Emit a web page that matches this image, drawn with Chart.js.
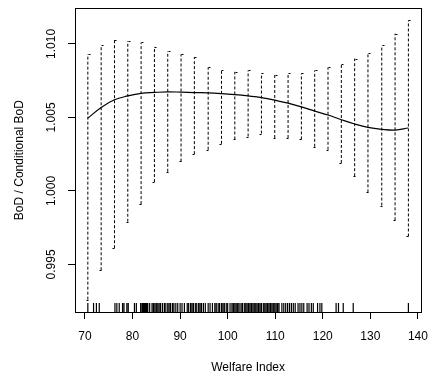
<!DOCTYPE html>
<html>
<head>
<meta charset="utf-8">
<script src="https://cdn.jsdelivr.net/npm/chart.js@4"></script>
<style>
  html, body { margin: 0; padding: 0; background: #fff; }
  #wrap { width: 438px; height: 380px; }
</style>
</head>
<body>
<div id="wrap"><canvas id="bodChart"></canvas></div>
<script>
// grid of welfare index values where the ratio was evaluated
const welfareGrid = [70.6, 73.4, 76.2, 79.0, 81.8, 84.6, 87.4, 90.2, 93.0, 95.9, 98.7, 101.5, 104.3,
    107.1, 109.9, 112.7, 115.5, 118.3, 121.1, 123.9, 126.7, 129.5, 132.4, 135.2, 138.0];
const bodFit = [1.00495, 1.00568, 1.0062, 1.00646, 1.00664, 1.0067, 1.00674, 1.00672, 1.00669, 1.00667, 1.00662, 1.00655, 1.00646,
    1.00635, 1.00617, 1.00597, 1.00572, 1.00543, 1.00516, 1.00484, 1.00455, 1.00432, 1.00419, 1.00414, 1.00428];
const bodUpper = [1.0093, 1.0099, 1.0103, 1.0102, 1.0101, 1.0098, 1.0095, 1.0093, 1.0091, 1.0084, 1.0082, 1.0081, 1.0082,
    1.0080, 1.0079, 1.0080, 1.0080, 1.0082, 1.0084, 1.0086, 1.0090, 1.0094, 1.0099, 1.0107, 1.0116];
const bodLower = [0.9926, 0.9946, 0.9961, 0.9979, 0.9991, 1.0006, 1.0013, 1.0020, 1.0025, 1.0028, 1.0032, 1.0035, 1.0037,
    1.0039, 1.0036, 1.0036, 1.0035, 1.0030, 1.0028, 1.0019, 1.0010, 0.9999, 0.9990, 0.9980, 0.9969];

// observed welfare index values (rug)
const rugValues = [70.6, 71.8, 72.4, 73.0, 76.3, 76.7, 77.2, 77.9, 78.2, 78.8, 79.1, 80.4, 80.8,
    81.7, 82.0, 82.2, 82.4, 82.6, 82.8, 83.0, 83.2, 83.6, 84.1, 84.4, 84.7, 85.0, 85.3, 85.6, 85.9, 86.3,
    86.7, 87.0, 87.4, 87.7, 88.0, 88.4, 88.7, 89.1, 89.5, 90.0, 90.4, 90.9, 91.5, 91.8, 92.2, 92.5, 92.8,
    93.2, 93.5, 93.9, 94.2, 94.5, 94.9, 95.3, 95.9, 96.3, 96.8, 97.3, 97.6, 98.0, 98.3, 98.7, 99.0, 99.3,
    99.7, 100.0, 100.5, 100.9, 101.2, 101.5, 101.8, 102.1, 102.4, 102.8, 103.1, 103.5, 103.8, 104.1, 104.4,
    104.7, 105.0, 105.3, 105.6, 105.9, 106.2, 106.5, 106.8, 107.1, 107.5, 107.8, 108.1, 108.4, 108.7, 109.0,
    109.3, 109.6, 109.9, 110.2, 110.5, 110.8, 111.4, 111.8, 112.2, 112.6, 113.0, 113.4, 113.8, 114.2, 114.8,
    115.2, 115.6, 116.0, 116.7, 117.1, 117.6, 118.0, 118.9, 119.4, 119.8, 122.8, 123.3, 124.3, 126.4, 138.0];

const xTicks = [70, 80, 90, 100, 110, 120, 130, 140];
const yTicks = [0.995, 1.000, 1.005, 1.010];

const X_MIN = 67.9, X_MAX = 140.7;
const Y_MIN = 0.99176, Y_MAX = 1.01243;
const RUG_LEN = 0.03 * (Y_MAX - Y_MIN);

Chart.defaults.font.family = '"Liberation Sans", Arial, sans-serif';
Chart.defaults.font.size = 12;
Chart.defaults.color = '#000';

// vertical segments separated by null gaps
const barPoints = [];
welfareGrid.forEach((x, i) => {
    barPoints.push({x: x, y: bodLower[i]}, {x: x, y: bodUpper[i]}, {x: x, y: null});
});
const rugPoints = [];
rugValues.forEach(x => {
    rugPoints.push({x: x, y: Y_MIN}, {x: x, y: Y_MIN + RUG_LEN}, {x: x, y: null});
});
const fitPoints = welfareGrid.map((x, i) => ({x: x, y: bodFit[i]}));

const capsAndBox = {
    id: 'capsAndBox',
    afterDatasetsDraw(chart) {
        const ctx = chart.ctx;
        const xs = chart.scales.x, ys = chart.scales.y;
        const area = chart.chartArea;
        ctx.save();
        ctx.strokeStyle = '#000';
        ctx.lineWidth = 1;
        ctx.beginPath();
        welfareGrid.forEach((x, i) => {
            const px = Math.round(xs.getPixelForValue(x)) + 0.5;
            const top = Math.round(ys.getPixelForValue(bodUpper[i])) + 0.5;
            const bot = Math.round(ys.getPixelForValue(bodLower[i])) + 0.5;
            ctx.moveTo(px, top); ctx.lineTo(px + 2, top);
            ctx.moveTo(px - 2, bot); ctx.lineTo(px, bot);
        });
        ctx.stroke();
        ctx.strokeRect(Math.round(area.left) + 0.5, Math.round(area.top) + 0.5,
            Math.round(area.right - area.left), Math.round(area.bottom - area.top));
        ctx.restore();
    }
};

new Chart(document.getElementById('bodChart'), {
    type: 'scatter',
    data: {
        datasets: [
            {
                data: rugPoints,
                showLine: true,
                borderColor: '#000',
                borderWidth: 1.2,
                pointRadius: 0,
                spanGaps: false
            },
            {
                data: barPoints,
                showLine: true,
                borderColor: '#000',
                borderWidth: 1,
                borderDash: [3, 2],
                pointRadius: 0,
                spanGaps: false
            },
            {
                data: fitPoints,
                showLine: true,
                borderColor: '#000',
                borderWidth: 1.2,
                pointRadius: 0,
                tension: 0.4
            }
        ]
    },
    options: {
        responsive: true,
        maintainAspectRatio: false,
        animation: false,
        layout: { padding: { top: 6, right: 9, bottom: 0, left: 0 } },
        plugins: {
            legend: { display: false },
            tooltip: { enabled: false }
        },
        scales: {
            x: {
                type: 'linear',
                min: X_MIN,
                max: X_MAX,
                afterBuildTicks: axis => { axis.ticks = xTicks.map(v => ({value: v})); },
                afterFit: axis => { axis.height = 68; },
                ticks: { autoSkip: false, maxRotation: 0, padding: 10, color: '#000' },
                grid: { drawOnChartArea: false, drawTicks: true, tickLength: 7, color: '#000' },
                border: { display: false },
                title: { display: true, text: 'Welfare Index', color: '#000', padding: { top: 0, bottom: 5 } }
            },
            y: {
                type: 'linear',
                min: Y_MIN,
                max: Y_MAX,
                afterBuildTicks: axis => { axis.ticks = yTicks.map(v => ({value: v})); },
                afterFit: axis => { axis.width = 75; },
                ticks: {
                    autoSkip: false, minRotation: 90, maxRotation: 90, crossAlign: 'center',
                    padding: 1, color: '#000', callback: v => v.toFixed(3)
                },
                grid: { drawOnChartArea: false, drawTicks: true, tickLength: 7, color: '#000' },
                border: { display: false },
                title: { display: true, text: 'BoD / Conditional BoD', color: '#000', padding: { top: 12, bottom: 0 } }
            }
        }
    },
    plugins: [capsAndBox]
});
</script>
</body>
</html>
